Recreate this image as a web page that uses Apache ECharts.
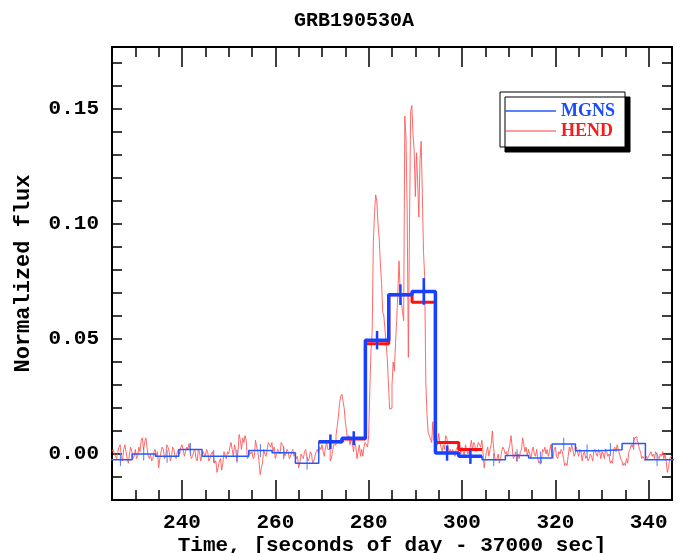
<!DOCTYPE html>
<html><head><meta charset="utf-8">
<script src="https://cdn.jsdelivr.net/npm/echarts@6/dist/echarts.min.js"></script>
<style>html,body{margin:0;padding:0;background:#fff}#c{width:683px;height:553px}</style>
</head><body><div id="c"></div><script>
// ---- data ----
const titleText = 'GRB190530A';
const xAxisTitle = 'Time, [seconds of day - 37000 sec]';
const yAxisTitle = 'Normalized flux';
const xMajorTicks = [240, 260, 280, 300, 320, 340];
const yLabelTicks = [0, 0.05, 0.10, 0.15];

// HEND high-resolution light curve, 0.25 s bins starting at 225 s
const hendStart = 225;
const hendStep = 0.25;
const hendValues = [
  0.001, 0.002, 0.000, -0.001, -0.002, 0.001, 0.003, 0.004, -0.001, -0.003, 0.002, 0.004, 0.001, -0.002, -0.004, 0.000, 0.003, 0.001, -0.002, -0.001,
  0.002, -0.002, -0.001, 0.003, 0.001, 0.006, 0.007, 0.002, 0.005, 0.007, 0.003, -0.001, -0.002, 0.000, -0.003, -0.002, 0.001, 0.002, -0.001, 0.001,
  -0.006, -0.002, 0.001, 0.003, 0.002, -0.002, -0.001, 0.004, 0.003, 0.001, -0.003, -0.001, 0.003, 0.002, -0.001, -0.002, 0.001, 0.002, 0.000, 0.003,
  0.004, 0.002, -0.001, 0.001, 0.003, 0.002, 0.0045, 0.001, -0.002, -0.001, 0.001, 0.002, -0.002, -0.003, 0.002, 0.001, -0.003, -0.001, 0.001, 0.000,
  -0.001, 0.002, 0.001, -0.003, -0.002, 0.000, 0.001, -0.001, -0.004, -0.003, -0.008, -0.006, -0.003, -0.002, -0.007, -0.004, 0.001, -0.001, -0.002, 0.001,
  0.000, 0.003, 0.005, 0.002, -0.001, 0.004, 0.002, -0.003, 0.001, 0.0085, 0.006, 0.002, 0.007, 0.005, 0.008, 0.006, -0.002, -0.001, 0.001, 0.000,
  0.001, -0.002, -0.001, 0.006, 0.003, 0.001, -0.003, -0.009, -0.006, -0.004, 0.002, 0.000, -0.001, 0.002, 0.005, 0.004, 0.003, 0.005, 0.001, 0.003,
  -0.002, 0.000, 0.002, 0.001, 0.000, 0.005, 0.004, 0.003, -0.001, 0.000, 0.002, 0.001, -0.002, -0.001, 0.001, 0.002, -0.001, 0.000, -0.002, -0.001,
  -0.006, -0.004, 0.000, -0.001, -0.002, 0.001, 0.002, -0.001, -0.003, -0.002, 0.001, 0.000, -0.004, -0.003, -0.001, 0.001, 0.002, 0.000, 0.003, 0.002,
  0.004, 0.001, -0.001, 0.003, 0.005, 0.002, 0.002, -0.003, -0.002, 0.001, 0.004, 0.004, 0.008, 0.012, 0.016, 0.022, 0.025, 0.026, 0.023, 0.020,
  0.014, 0.010, 0.006, 0.008, 0.004, 0.007, 0.005, 0.001, 0.006, 0.003, -0.002, 0.001, 0.004, -0.001, 0.002, -0.001, 0.003, 0.005, 0.004, 0.003,
  0.008, 0.028, 0.045, 0.053, 0.092, 0.105, 0.1127, 0.110, 0.100, 0.094, 0.083, 0.075, 0.062, 0.060, 0.054, 0.048, 0.041, 0.030, 0.0195, 0.020,
  0.030, 0.040, 0.036, 0.048, 0.058, 0.070, 0.084, 0.071, 0.066, 0.062, 0.058, 0.147, 0.137, 0.106, 0.042, 0.100, 0.149, 0.1516, 0.139, 0.132,
  0.112, 0.131, 0.118, 0.103, 0.128, 0.136, 0.113, 0.088, 0.077, 0.031, 0.017, 0.0095, 0.008, 0.0065, 0.005, 0.014, 0.006, 0.007, 0.009, 0.004,
  0.009, 0.005, 0.003, 0.001, 0.004, 0.002, 0.008, 0.007, 0.003, 0.001, 0.002, 0.000, 0.002, 0.001, -0.001, 0.002, 0.003, 0.001, 0.004, 0.000,
  0.003, 0.001, -0.001, 0.004, 0.002, 0.000, 0.001, 0.003, 0.006, 0.002, 0.005, 0.004, 0.001, 0.003, 0.005, 0.004, 0.003, 0.006, 0.001, -0.006,
  -0.002, 0.001, 0.003, -0.001, 0.002, 0.004, 0.010, 0.003, -0.001, -0.003, -0.002, 0.000, -0.004, -0.002, 0.001, 0.003, 0.002, 0.000, 0.001, -0.001,
  0.002, 0.004, 0.008, 0.003, -0.002, -0.001, 0.001, -0.003, 0.000, -0.002, 0.001, 0.002, 0.007, 0.004, 0.001, 0.003, -0.001, 0.002, 0.000, -0.002,
  0.001, 0.003, 0.000, -0.001, 0.002, -0.002, -0.004, -0.003, -0.004, 0.002, 0.001, 0.003, 0.000, 0.002, -0.001, 0.001, 0.004, 0.000, -0.002, 0.002,
  0.003, -0.001, -0.002, 0.001, 0.000, 0.002, 0.001, -0.002, -0.005, -0.004, -0.005, -0.001, 0.003, 0.001, 0.004, 0.002, -0.001, 0.000, 0.003, 0.001,
  -0.001, 0.002, 0.001, -0.003, 0.000, 0.001, -0.002, -0.001, -0.003, -0.002, 0.000, -0.001, -0.003, 0.001, 0.002, 0.000, -0.001, 0.002, 0.001, -0.002,
  0.001, 0.000, -0.002, 0.002, 0.001, -0.001, 0.000, -0.004, -0.003, -0.004, 0.002, 0.003, 0.001, 0.004, 0.002, 0.000, -0.002, -0.003, -0.005, -0.004,
  -0.005, -0.002, -0.004, 0.001, 0.002, 0.004, 0.003, 0.005, 0.007, 0.0075, 0.006, 0.005, 0.002, 0.001, -0.002, -0.001, -0.002, -0.003, -0.001, -0.002,
  -0.001, 0.000, 0.001, -0.001, 0.000, -0.002, 0.001, 0.000, -0.001, -0.002, 0.000, -0.001, 0.001, -0.002, 0.000, -0.003, -0.008, -0.006, -0.002, -0.001
];

// MGNS 5 s bins starting at 224.3 s
const mgnsStart = 224.3;
const mgnsWidth = 5;
const mgnsValues = [-0.0025, 0.0, -0.001, 0.002, -0.001, -0.001, 0.0015, 0.0005, -0.004,
  0.0053, 0.0069, 0.0495, 0.0693, 0.0707, 0.0004, -0.001,
  -0.0025, -0.0007, -0.0017, 0.0043, 0.0014, 0.0019, 0.0046, -0.0025, -0.0025];
const mgnsErrors = [0.0028, 0.0028, 0.0028, 0.0028, 0.0028, 0.0028, 0.0028, 0.0028, 0.0028,
  0.0032, 0.0030, 0.0040, 0.0045, 0.0058, 0.0033, 0.0033,
  0.0028, 0.0028, 0.0028, 0.0028, 0.0028, 0.0028, 0.0028, 0.0028, 0.0028];
const burstFirstBin = 9;   // index of first burst bin (269.3 s)
const burstLastBin = 15;   // index of last burst bin (299.3-304.3 s)
// HEND averaged into the same 5 s bins during the burst
const hendBinned = [0.0053, 0.0065, 0.048, 0.0693, 0.066, 0.005, 0.002];

// ---- build ----
function stepData(start, width, vals) {
  const d = vals.map((v, i) => [start + i * width, v]);
  d.push([start + vals.length * width, vals[vals.length - 1]]);
  return d;
}
const hendCurve = stepData(hendStart, hendStep, hendValues);
const mgnsThin = stepData(mgnsStart, mgnsWidth, mgnsValues);
const burstStart = mgnsStart + burstFirstBin * mgnsWidth;
const mgnsThick = stepData(burstStart, mgnsWidth, mgnsValues.slice(burstFirstBin, burstLastBin + 1));
const hendThick = stepData(burstStart, mgnsWidth, hendBinned);
const errThin = [], errThick = [];
mgnsValues.forEach((v, i) => {
  const c = mgnsStart + (i + 0.5) * mgnsWidth;
  const row = [c, v - mgnsErrors[i], v + mgnsErrors[i]];
  if (i >= burstFirstBin && i <= burstLastBin) errThick.push(row); else errThin.push(row);
});

const mono = "'Liberation Mono', 'DejaVu Sans Mono', monospace";
const black = '#000';
const axisFont = {color: black, fontFamily: mono, fontWeight: 'bold', fontSize: 21};

function errSeries(name, data, color, width, z) {
  return {
    name, type: 'custom', xAxisIndex: 0, yAxisIndex: 0, z, data, clip: true,
    encode: {x: 0, y: [1, 2]},
    renderItem: (params, api) => {
      const p1 = api.coord([api.value(0), api.value(1)]);
      const p2 = api.coord([api.value(0), api.value(2)]);
      return {type: 'line', shape: {x1: p1[0], y1: p1[1], x2: p2[0], y2: p2[1]},
        style: {stroke: color, lineWidth: width}};
    }
  };
}

const xBase = {type: 'value', min: 225, max: 345, splitLine: {show: false}};
const yBase = {type: 'value', min: -0.02, max: 0.177, interval: 0.01, splitLine: {show: false}};
const frameLine = {show: true, onZero: false, lineStyle: {color: black, width: 2}};
const hiddenLine = {show: false, onZero: false};
const tickStyle = {color: black, width: 1.5};

const chart = echarts.init(document.getElementById('c'), null, {renderer: 'canvas'});
chart.setOption({
  animation: false,
  backgroundColor: '#fff',
  title: {text: titleText, left: 289, top: 6,
    textStyle: {fontFamily: mono, fontWeight: 'bold', fontSize: 20, color: black}},
  grid: {left: 112, right: 11, top: 47, bottom: 53, containLabel: false, outerBoundsMode: 'none'},
  legend: {
    orient: 'vertical', left: 500, top: 92, padding: [10, 10, 7, 5], itemGap: 2,
    itemWidth: 51, itemHeight: 14, symbolKeepAspect: true,
    backgroundColor: '#fff', borderColor: black, borderWidth: 1,
    shadowColor: black, shadowOffsetX: 5, shadowOffsetY: 5, shadowBlur: 0,
    textStyle: {fontFamily: "'Liberation Serif', serif", fontWeight: 'bold', fontSize: 18},
    data: [
      {name: 'MGNS', icon: 'path://M0,0L51,0L51,1.5L0,1.5Z', textStyle: {color: '#1a4cff'}},
      {name: 'HEND', icon: 'path://M0,0L51,0L51,1L0,1Z', textStyle: {color: '#ff1a1a'}}
    ]
  },
  xAxis: [
    Object.assign({}, xBase, {position: 'bottom', axisLine: frameLine,
      axisTick: {show: true, inside: true, length: 20, customValues: xMajorTicks, lineStyle: tickStyle},
      axisLabel: {show: true, customValues: xMajorTicks, margin: 12, ...axisFont},
      name: xAxisTitle, nameLocation: 'middle', nameGap: 35, nameMoveOverlap: false,
      nameTextStyle: {...axisFont}}),
    Object.assign({}, xBase, {position: 'bottom', interval: 5, axisLine: hiddenLine,
      axisTick: {show: true, inside: true, length: 10, lineStyle: tickStyle},
      axisLabel: {show: false}}),
    Object.assign({}, xBase, {position: 'top', axisLine: frameLine,
      axisTick: {show: true, inside: true, length: 20, customValues: xMajorTicks, lineStyle: tickStyle},
      axisLabel: {show: false}}),
    Object.assign({}, xBase, {position: 'top', interval: 5, axisLine: hiddenLine,
      axisTick: {show: true, inside: true, length: 10, lineStyle: tickStyle},
      axisLabel: {show: false}})
  ],
  yAxis: [
    Object.assign({}, yBase, {position: 'left', axisLine: frameLine,
      axisTick: {show: true, inside: true, length: 10, lineStyle: tickStyle},
      axisLabel: {show: true, customValues: yLabelTicks, margin: 13, formatter: v => v.toFixed(2), ...axisFont},
      name: yAxisTitle, nameLocation: 'middle', nameGap: 78, nameRotate: 90,
      nameTextStyle: {...axisFont, fontSize: 22}}),
    Object.assign({}, yBase, {position: 'right', axisLine: frameLine,
      axisTick: {show: true, inside: true, length: 10, lineStyle: tickStyle},
      axisLabel: {show: false}})
  ],
  series: [
    {name: 'MGNS', type: 'line', step: 'end', data: mgnsThin, symbol: 'none', z: 3,
      lineStyle: {color: '#2458ff', width: 1.5}, itemStyle: {color: '#2458ff'}},
    {name: 'HEND', type: 'line', step: 'end', data: hendCurve, symbol: 'none', z: 2,
      lineStyle: {color: '#ff5a5a', width: 1, opacity: 0.9}, itemStyle: {color: '#ff3a3a'}},
    errSeries('MGNS err', errThin, '#4f7bff', 1, 3),
    {name: 'HEND bins', type: 'line', step: 'end', data: hendThick, symbol: 'none', z: 4,
      lineStyle: {color: '#ff1010', width: 3}},
    {name: 'MGNS bins', type: 'line', step: 'end', data: mgnsThick, symbol: 'none', z: 5,
      lineStyle: {color: '#1a40ff', width: 3.5}},
    errSeries('MGNS bins err', errThick, '#1a40ff', 2.5, 5)
  ]
});
</script></body></html>
